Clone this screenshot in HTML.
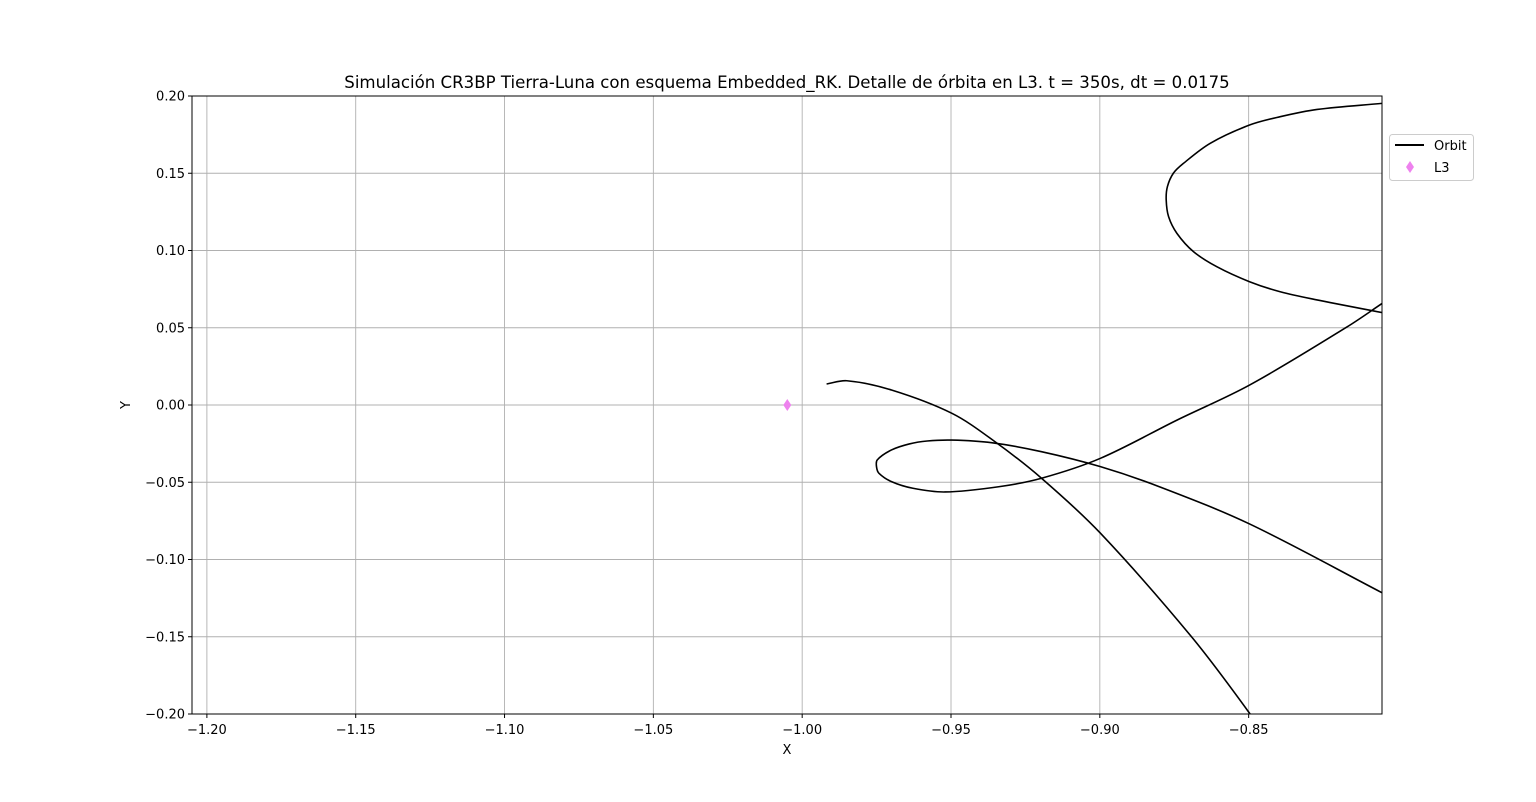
<!DOCTYPE html>
<html><head><meta charset="utf-8"><style>
html,body{margin:0;padding:0;background:#fff;}
svg{display:block;font-family:"DejaVu Sans","Liberation Sans",sans-serif;}
</style></head><body>
<svg id="chart" width="1536" height="802" viewBox="0 0 1536 802">
<defs><clipPath id="clip"><rect x="192" y="96" width="1190" height="618"/></clipPath></defs>
<g id="grid"></g>
<g id="plot" clip-path="url(#clip)"></g>
<rect x="192" y="96" width="1190" height="618" fill="none" stroke="#000" stroke-width="1"/>
<g id="ticks"></g>
<text x="787" y="88" text-anchor="middle" font-size="16.6">Simulación CR3BP Tierra-Luna con esquema Embedded_RK. Detalle de órbita en L3. t = 350s, dt = 0.0175</text>
<text x="787" y="754" text-anchor="middle" font-size="13">X</text>
<text x="130" y="405" text-anchor="middle" font-size="13" transform="rotate(-90 130 405)">Y</text>
<g>
<rect x="1389.5" y="134.5" width="84" height="46" rx="3" fill="#fff" stroke="#ccc"/>
<line x1="1395" y1="145" x2="1424" y2="145" stroke="#000" stroke-width="2"/>
<text x="1434" y="150" font-size="13">Orbit</text>
<polygon points="1410,161 1414,167 1410,173 1406,167" fill="#ee82ee"/>
<text x="1434" y="172" font-size="13">L3</text>
</g>
</svg>
<script>
const xTicks=[-1.20,-1.15,-1.10,-1.05,-1.00,-0.95,-0.90,-0.85];
const yTicks=[0.20,0.15,0.10,0.05,0.00,-0.05,-0.10,-0.15,-0.20];
const seg1X=[-0.9918,-0.985,-0.97,-0.9497,-0.9352,-0.9196,-0.8998,-0.8692,-0.8497,-0.8428];
const seg1Y=[0.0136,0.0157,0.0097,-0.0054,-0.0238,-0.0474,-0.083,-0.15,-0.1995,-0.2201];
const seg2X=[-0.8048,-0.8497,-0.88,-0.8998,-0.9196,-0.9364,-0.9497,-0.958,-0.964,-0.97,-0.9748,-0.975,-0.9742,-0.97,-0.9628,-0.952,-0.934,-0.9196,-0.8998,-0.874,-0.8497,-0.8169,-0.8048];
const seg2Y=[-0.1219,-0.077,-0.0529,-0.0399,-0.0302,-0.0244,-0.0227,-0.0233,-0.0252,-0.0291,-0.0356,-0.0403,-0.0442,-0.0496,-0.0539,-0.0563,-0.0529,-0.0474,-0.0345,-0.0097,0.0129,0.0506,0.0662];
const seg3X=[-0.8048,-0.827,-0.8394,-0.8497,-0.8607,-0.8685,-0.8741,-0.8769,-0.8777,-0.8773,-0.8753,-0.8719,-0.8629,-0.8497,-0.8394,-0.827,-0.8048];
const seg3Y=[0.0597,0.068,0.0733,0.0798,0.0895,0.0992,0.1111,0.1219,0.1327,0.1413,0.15,0.1564,0.1694,0.1812,0.1866,0.1913,0.1953];
const l3X=[-1.005], l3Y=[0.0];
const NS="http://www.w3.org/2000/svg";
const X0=-1.205,X1=-0.8052,Y0=-0.2,Y1=0.2,PL=192,PR=1382,PT=96,PB=714;
const sx=v=>PL+(v-X0)/(X1-X0)*(PR-PL);
const sy=v=>PB-(v-Y0)/(Y1-Y0)*(PB-PT);
const fmt=v=>(v<0?"\u2212":"")+Math.abs(v).toFixed(2);
const mk=(t,a)=>{const e=document.createElementNS(NS,t);for(const k in a)e.setAttribute(k,a[k]);return e;};
const grid=document.getElementById('grid'),ticks=document.getElementById('ticks'),plot=document.getElementById('plot');
xTicks.forEach(v=>{const x=sx(v);
 const g=mk('line',{x1:x,y1:PT,x2:x,y2:PB,stroke:'#b0b0b0','stroke-width':0.9});
 
 
 grid.appendChild(g);
 const t=mk('line',{x1:x,y1:PB,x2:x,y2:PB+4,stroke:'#000'});
 
 
 ticks.appendChild(t);
 const l=mk('text',{x:x,y:PB+20,'text-anchor':'middle','font-size':13});l.textContent=fmt(v);
 
 
 ticks.appendChild(l);});
yTicks.forEach(v=>{const y=sy(v);
 const g=mk('line',{x1:PL,y1:y,x2:PR,y2:y,stroke:'#b0b0b0','stroke-width':0.9});
 
 
 grid.appendChild(g);
 const t=mk('line',{x1:PL-4,y1:y,x2:PL,y2:y,stroke:'#000'});
 
 
 ticks.appendChild(t);
 const l=mk('text',{x:PL-7,y:y+4.5,'text-anchor':'end','font-size':13});l.textContent=fmt(v);
 
 
 ticks.appendChild(l);});
function smooth(xs,ys){
 const p=xs.map((x,i)=>[sx(x),sy(ys[i])]);const n=p.length;
 const dist=(a,b)=>Math.hypot(a[0]-b[0],a[1]-b[1]);
 const T=p.map((q,i)=>{const a=p[Math.max(i-1,0)],c=p[Math.min(i+1,n-1)];
  const d=dist(a,q)+dist(q,c)||1;return [(c[0]-a[0])/d,(c[1]-a[1])/d];});
 let d=`M${p[0][0]},${p[0][1]}`;
 for(let i=0;i<n-1;i++){const b=p[i],c=p[i+1],L=dist(b,c)/3;
  d+=` C${b[0]+T[i][0]*L},${b[1]+T[i][1]*L} ${c[0]-T[i+1][0]*L},${c[1]-T[i+1][1]*L} ${c[0]},${c[1]}`;}
 return d;}
[[seg1X,seg1Y],[seg2X,seg2Y],[seg3X,seg3Y]].forEach(([xs,ys])=>{
 const p=mk('path',{d:smooth(xs,ys),fill:'none',stroke:'#000','stroke-width':1.6});
 
 
 plot.appendChild(p);});
l3X.forEach((v,i)=>{const x=sx(v),y=sy(l3Y[i]);
 const m=mk('polygon',{points:`${x},${y-6} ${x+4},${y} ${x},${y+6} ${x-4},${y}`,fill:'#ee82ee'});
 
 
 plot.appendChild(m);});
</script>
</body></html>
